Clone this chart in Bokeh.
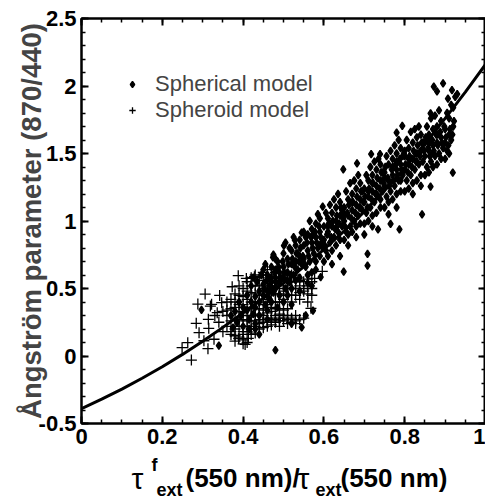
import numpy as np
from bokeh.plotting import figure
from bokeh.layouts import column
from bokeh.models import (Range1d, LinearAxis, FixedTicker, CustomJSTickFormatter,
                          Legend, LegendItem, ColumnDataSource)
from bokeh.core.properties import value
from bokeh.embed import file_html
from bokeh.resources import INLINE

# ---------------- data ----------------
sph_x = [
    0.38, 0.385, 0.39, 0.395, 0.40, 0.40, 0.37, 0.375,
    0.41, 0.41, 0.415, 0.42, 0.42, 0.425, 0.43, 0.43, 0.435, 0.44, 0.44, 0.44, 0.415, 0.425, 0.43, 0.445,
    0.45, 0.45, 0.455, 0.46, 0.46, 0.465, 0.47, 0.47, 0.475, 0.48, 0.48, 0.485, 0.49, 0.49, 0.45, 0.46,
    0.47, 0.48, 0.49, 0.485, 0.475, 0.455, 0.465, 0.48,
    0.50, 0.50, 0.505, 0.51, 0.51, 0.515, 0.52, 0.52, 0.525, 0.53, 0.53, 0.535, 0.54, 0.54, 0.545, 0.50,
    0.51, 0.52, 0.53, 0.54, 0.505, 0.515, 0.525, 0.535, 0.50, 0.52, 0.54,
    0.55, 0.55, 0.555, 0.56, 0.56, 0.565, 0.57, 0.57, 0.575, 0.58, 0.58, 0.585, 0.59, 0.59, 0.595, 0.55,
    0.56, 0.57, 0.58, 0.59, 0.555, 0.565, 0.575, 0.585, 0.57, 0.56, 0.58, 0.59,
    0.60, 0.60, 0.605, 0.61, 0.61, 0.615, 0.62, 0.62, 0.625, 0.63, 0.63, 0.635, 0.64, 0.64, 0.645, 0.60,
    0.61, 0.62, 0.63, 0.64, 0.605, 0.615, 0.625, 0.635, 0.645, 0.62, 0.64, 0.61, 0.63,
    0.65, 0.65, 0.655, 0.66, 0.66, 0.665, 0.67, 0.67, 0.675, 0.68, 0.68, 0.685, 0.69, 0.69, 0.695, 0.65,
    0.66, 0.67, 0.68, 0.69, 0.655, 0.665, 0.675, 0.685, 0.695, 0.66, 0.68, 0.67, 0.69, 0.65,
    0.70, 0.70, 0.705, 0.71, 0.71, 0.715, 0.72, 0.72, 0.725, 0.73, 0.73, 0.735, 0.74, 0.74, 0.745, 0.70,
    0.71, 0.72, 0.73, 0.74, 0.705, 0.715, 0.725, 0.735, 0.745, 0.70, 0.72, 0.71, 0.73, 0.74, 0.72,
    0.75, 0.75, 0.755, 0.76, 0.76, 0.765, 0.77, 0.77, 0.775, 0.78, 0.78, 0.785, 0.79, 0.79, 0.795, 0.75,
    0.76, 0.77, 0.78, 0.79, 0.755, 0.765, 0.775, 0.785, 0.795, 0.76, 0.78, 0.77, 0.79, 0.75, 0.78,
    0.80, 0.80, 0.805, 0.81, 0.81, 0.815, 0.82, 0.82, 0.825, 0.83, 0.83, 0.835, 0.84, 0.84, 0.845, 0.80,
    0.81, 0.82, 0.83, 0.84, 0.805, 0.815, 0.825, 0.835, 0.845, 0.82, 0.84, 0.81, 0.83, 0.80,
    0.85, 0.85, 0.855, 0.86, 0.86, 0.865, 0.87, 0.87, 0.875, 0.88, 0.88, 0.885, 0.89, 0.89, 0.895, 0.85,
    0.86, 0.87, 0.88, 0.89, 0.855, 0.865, 0.875, 0.885, 0.86, 0.88, 0.87,
    0.90, 0.90, 0.905, 0.91, 0.91, 0.915, 0.92, 0.92, 0.90, 0.91, 0.905, 0.915, 0.925, 0.93,
    0.919, 0.843, 0.864, 0.787, 0.765, 0.734, 0.708, 0.708, 0.649, 0.592, 0.648, 0.717, 0.739, 0.682,
    0.780, 0.794, 0.864, 0.872, 0.895, 0.917, 0.907, 0.880, 0.597, 0.545, 0.528, 0.501, 0.480, 0.545,
    0.573, 0.340, 0.297, 0.474, 0.555, 0.520, 0.43, 0.44, 0.46,
    0.602, 0.608, 0.612, 0.618, 0.622, 0.628, 0.632, 0.638, 0.642, 0.648, 0.652, 0.658, 0.662, 0.668,
    0.672, 0.678, 0.682, 0.688, 0.692, 0.698,
    0.702, 0.708, 0.712, 0.718, 0.722, 0.728, 0.732, 0.738, 0.742, 0.748, 0.752, 0.758, 0.762, 0.768,
    0.772, 0.778, 0.782, 0.788, 0.792, 0.798,
    0.802, 0.808, 0.812, 0.818, 0.822, 0.828, 0.832, 0.838, 0.842, 0.848, 0.852, 0.858, 0.862, 0.868,
    0.872, 0.878, 0.882, 0.888, 0.892, 0.898, 0.902, 0.908, 0.912, 0.918, 0.922,
    0.452, 0.458, 0.462, 0.468, 0.472, 0.478, 0.482, 0.488, 0.492, 0.498, 0.502, 0.508, 0.512, 0.518,
    0.522, 0.528, 0.532, 0.538, 0.542, 0.548, 0.552, 0.558, 0.562, 0.568, 0.572, 0.578, 0.582, 0.588,
    0.592, 0.598,
]
sph_y = [
    0.33, 0.25, 0.40, 0.30, 0.22, 0.36, 0.30, 0.21,
    0.34, 0.45, 0.27, 0.40, 0.52, 0.31, 0.44, 0.36, 0.55, 0.40, 0.48, 0.30, 0.20, 0.58, 0.24, 0.60,
    0.45, 0.53, 0.38, 0.48, 0.60, 0.42, 0.55, 0.66, 0.47, 0.58, 0.50, 0.70, 0.55, 0.62, 0.64, 0.34,
    0.40, 0.72, 0.45, 0.36, 0.75, 0.68, 0.52, 0.64,
    0.58, 0.66, 0.50, 0.62, 0.72, 0.55, 0.68, 0.78, 0.60, 0.70, 0.82, 0.64, 0.74, 0.86, 0.68, 0.76,
    0.45, 0.50, 0.56, 0.58, 0.84, 0.80, 0.88, 0.76, 0.40, 0.38, 0.48,
    0.72, 0.82, 0.66, 0.78, 0.90, 0.70, 0.84, 0.94, 0.76, 0.88, 0.98, 0.80, 0.92, 1.02, 0.84, 0.92,
    0.60, 0.62, 0.70, 0.74, 0.88, 1.00, 0.90, 1.05, 0.52, 0.54, 0.64, 0.82,
    0.86, 0.96, 0.78, 0.92, 1.02, 0.84, 0.96, 1.06, 0.88, 1.00, 1.10, 0.92, 1.04, 1.14, 0.96, 0.70,
    0.74, 0.78, 0.82, 0.86, 1.06, 1.12, 1.16, 1.20, 1.08, 0.68, 0.74, 0.96, 0.95,
    1.00, 1.10, 0.92, 1.04, 1.16, 0.96, 1.08, 1.20, 1.00, 1.12, 1.24, 1.04, 1.16, 1.28, 1.08, 0.86,
    0.90, 0.92, 0.96, 0.98, 1.22, 1.28, 1.30, 1.34, 1.22, 0.82, 0.88, 1.14, 1.10, 1.05,
    1.14, 1.24, 1.06, 1.18, 1.30, 1.10, 1.22, 1.34, 1.14, 1.26, 1.38, 1.18, 1.30, 1.42, 1.22, 0.98,
    1.00, 1.04, 1.06, 1.10, 1.34, 1.40, 1.44, 1.46, 1.36, 0.90, 0.96, 1.22, 1.20, 1.16, 1.28,
    1.26, 1.36, 1.18, 1.30, 1.42, 1.22, 1.34, 1.46, 1.26, 1.38, 1.50, 1.30, 1.42, 1.54, 1.34, 1.10,
    1.14, 1.16, 1.20, 1.22, 1.48, 1.52, 1.56, 1.60, 1.48, 1.05, 1.10, 1.40, 1.30, 1.32, 1.44,
    1.38, 1.48, 1.30, 1.42, 1.54, 1.34, 1.46, 1.58, 1.38, 1.50, 1.62, 1.42, 1.52, 1.64, 1.44, 1.22,
    1.24, 1.28, 1.30, 1.34, 1.60, 1.66, 1.68, 1.70, 1.58, 1.20, 1.26, 1.46, 1.44, 1.52,
    1.48, 1.58, 1.40, 1.52, 1.64, 1.44, 1.56, 1.68, 1.48, 1.58, 1.70, 1.50, 1.62, 1.74, 1.54, 1.34,
    1.36, 1.40, 1.42, 1.46, 1.70, 1.76, 1.78, 1.82, 1.58, 1.64, 1.50,
    1.58, 1.68, 1.52, 1.64, 1.76, 1.60, 1.70, 1.84, 1.46, 1.50, 1.80, 1.86, 1.92, 1.94,
    1.358, 1.049, 1.254, 0.938, 0.978, 0.938, 0.756, 0.669, 0.625, 0.585, 1.383, 1.496, 1.496, 1.427,
    1.654, 1.704, 1.798, 1.995, 2.020, 1.970, 1.906, 1.960, 1.106, 0.914, 0.859, 0.817, 0.044, 0.212,
    0.336, 0.077, 0.341, 0.730, 0.300, 0.240, 0.20, 0.16, 0.27,
    0.82, 0.90, 0.98, 0.88, 1.00, 0.94, 1.04, 0.98, 1.10, 1.02, 0.96, 1.06, 1.12, 1.02,
    1.14, 1.06, 1.18, 1.10, 1.22, 1.14,
    1.18, 1.10, 1.24, 1.16, 1.28, 1.20, 1.32, 1.24, 1.36, 1.28, 1.40, 1.32, 1.26, 1.38,
    1.30, 1.42, 1.34, 1.46, 1.38, 1.50,
    1.42, 1.36, 1.48, 1.40, 1.52, 1.44, 1.56, 1.48, 1.58, 1.52, 1.62, 1.54, 1.48, 1.60,
    1.52, 1.64, 1.56, 1.66, 1.58, 1.70, 1.62, 1.56, 1.68, 1.64, 1.74,
    0.50, 0.56, 0.44, 0.58, 0.50, 0.62, 0.54, 0.66, 0.58, 0.70, 0.62, 0.56, 0.68, 0.60,
    0.72, 0.66, 0.76, 0.70, 0.80, 0.74, 0.68, 0.84, 0.74, 0.88, 0.80, 0.92, 0.84, 0.96,
    0.88, 0.80,
]

spd_x = [
    0.272, 0.249, 0.263, 0.313, 0.284, 0.291, 0.288, 0.306, 0.319, 0.342, 0.388, 0.568, 0.596, 0.577,
    0.405, 0.389, 0.303, 0.328, 0.314, 0.315, 0.336, 0.322, 0.347, 0.373, 0.408, 0.428, 0.413,
    0.36, 0.36, 0.37, 0.37, 0.38, 0.38, 0.38, 0.39, 0.39, 0.39, 0.40, 0.40, 0.40, 0.40, 0.41, 0.41,
    0.41, 0.41, 0.42, 0.42, 0.42, 0.42, 0.43, 0.43, 0.43, 0.43, 0.44, 0.44, 0.44, 0.44, 0.45, 0.45,
    0.45, 0.45, 0.46, 0.46, 0.46, 0.46, 0.47, 0.47, 0.47, 0.47, 0.48, 0.48, 0.48, 0.48, 0.49, 0.49,
    0.49, 0.49, 0.50, 0.50, 0.50, 0.50, 0.51, 0.51, 0.51, 0.52, 0.52, 0.52, 0.53, 0.53, 0.53, 0.54,
    0.54, 0.55, 0.55, 0.56, 0.56, 0.57, 0.57, 0.36, 0.37, 0.38, 0.35, 0.34, 0.35, 0.33, 0.44, 0.43,
    0.45, 0.42, 0.39, 0.40, 0.41, 0.46, 0.48, 0.50, 0.47, 0.51, 0.52, 0.49, 0.53, 0.54, 0.55, 0.52,
    0.50, 0.48, 0.46,
    0.36, 0.37, 0.38, 0.39, 0.39, 0.40, 0.40, 0.41, 0.41, 0.41, 0.42, 0.42, 0.42, 0.43, 0.43, 0.43,
    0.44, 0.44, 0.44, 0.45, 0.45, 0.45, 0.45, 0.46, 0.46, 0.46, 0.47, 0.47, 0.47, 0.48, 0.48, 0.48,
    0.49, 0.49, 0.49, 0.50, 0.50, 0.51, 0.51, 0.51, 0.52, 0.52, 0.53, 0.53, 0.54, 0.54, 0.55, 0.56,
    0.56, 0.57,
    0.37, 0.38, 0.39, 0.40, 0.41, 0.42, 0.43, 0.44, 0.45, 0.46, 0.47, 0.49, 0.50, 0.51, 0.52, 0.53,
    0.38, 0.40,
]
spd_y = [
    -0.030, 0.062, 0.099, 0.054, 0.242, 0.173, 0.385, 0.459, 0.370, 0.449, 0.595, 0.353, 0.627, 0.575,
    0.086, 0.128, 0.113, 0.124, 0.272, 0.205, 0.321, 0.383, 0.395, 0.513, 0.575, 0.587, 0.131,
    0.30, 0.22, 0.35, 0.18, 0.28, 0.40, 0.15, 0.33, 0.22, 0.45, 0.27, 0.38, 0.18, 0.50, 0.30, 0.42,
    0.22, 0.55, 0.35, 0.26, 0.47, 0.16, 0.30, 0.40, 0.52, 0.22, 0.27, 0.35, 0.45, 0.58, 0.25, 0.38,
    0.50, 0.30, 0.28, 0.42, 0.55, 0.22, 0.33, 0.48, 0.26, 0.60, 0.30, 0.40, 0.52, 0.25, 0.35, 0.46,
    0.28, 0.56, 0.30, 0.42, 0.52, 0.26, 0.27, 0.45, 0.55, 0.25, 0.40, 0.50, 0.30, 0.45, 0.55, 0.42,
    0.52, 0.48, 0.55, 0.40, 0.52, 0.45, 0.50, 0.40, 0.26, 0.36, 0.33, 0.25, 0.18, 0.30, 0.20, 0.60,
    0.62, 0.58, 0.52, 0.12, 0.10, 0.48, 0.46, 0.48, 0.40, 0.35, 0.28, 0.22, 0.26, 0.27, 0.28, 0.60,
    0.60, 0.62, 0.64,
    0.34, 0.42, 0.46, 0.26, 0.38, 0.32, 0.44, 0.26, 0.36, 0.48, 0.30, 0.40, 0.52, 0.26, 0.35, 0.46,
    0.31, 0.40, 0.52, 0.27, 0.34, 0.45, 0.56, 0.32, 0.38, 0.60, 0.28, 0.36, 0.52, 0.27, 0.35, 0.56,
    0.31, 0.40, 0.50, 0.34, 0.56, 0.30, 0.50, 0.60, 0.45, 0.55, 0.50, 0.60, 0.47, 0.56, 0.50, 0.46,
    0.57, 0.55,
    0.16, 0.20, 0.14, 0.16, 0.18, 0.20, 0.17, 0.24, 0.21, 0.25, 0.23, 0.26, 0.28, 0.24, 0.27, 0.24,
    0.11, 0.09,
]

curve_x = [0.00, 0.05, 0.10, 0.15, 0.20, 0.25, 0.30, 0.35, 0.40, 0.45, 0.50,
           0.55, 0.60, 0.65, 0.70, 0.75, 0.80, 0.85, 0.90, 0.95, 1.00]
curve_y = [-0.39, -0.32, -0.245, -0.165, -0.08, 0.012, 0.11, 0.212, 0.32, 0.428, 0.54,
           0.66, 0.79, 0.925, 1.07, 1.225, 1.39, 1.57, 1.76, 1.955, 2.16]

x_ticks = [0, 0.2, 0.4, 0.6, 0.8, 1.0]
y_ticks = [-0.5, 0, 0.5, 1.0, 1.5, 2.0, 2.5]

# x-axis title pieces (with super/subscripts)
xlabel_text = ["τ", "f", "ext", "(550 nm)/", "τ", "ext", "(550 nm)"]

# ---------------- main figure ----------------
FONT = "Liberation Sans"
p = figure(width=485, height=455, output_backend="svg", toolbar_location=None, title=None,
           x_range=Range1d(0, 1), y_range=Range1d(-0.5, 2.5),
           x_axis_location=None, y_axis_location=None,
           min_border_left=81, min_border_right=0, min_border_top=18, min_border_bottom=32)
p.grid.visible = False
p.outline_line_color = "black"
p.outline_line_width = 2
p.background_fill_color = "white"
p.border_fill_color = "white"

fmt = CustomJSTickFormatter(code="return String(Math.round(tick*100)/100);")
blank = CustomJSTickFormatter(code="return '';")
x_minor = [round(0.05 * i, 2) for i in range(21)]
y_minor = [round(-0.5 + 0.1 * i, 2) for i in range(31)]


def style_axis(ax, show_labels):
    ax.axis_line_width = 2
    ax.axis_line_color = "black"
    ax.major_tick_in = 7
    ax.major_tick_out = 0
    ax.minor_tick_in = 4
    ax.minor_tick_out = 0
    ax.major_tick_line_width = 2
    ax.minor_tick_line_width = 1.5
    ax.major_tick_line_color = "black"
    ax.minor_tick_line_color = "black"
    if show_labels:
        ax.major_label_text_font = FONT
        ax.major_label_text_font_style = "bold"
        ax.major_label_text_font_size = "22px"
        ax.major_label_text_color = "black"
    else:
        ax.major_label_text_font_size = "1px"
        ax.major_label_standoff = 0


xb = LinearAxis(ticker=FixedTicker(ticks=x_ticks, minor_ticks=x_minor), formatter=fmt)
style_axis(xb, True)
xb.major_label_standoff = 5
xt = LinearAxis(ticker=FixedTicker(ticks=x_ticks, minor_ticks=x_minor), formatter=blank)
style_axis(xt, False)
yl = LinearAxis(ticker=FixedTicker(ticks=y_ticks, minor_ticks=y_minor), formatter=fmt)
style_axis(yl, True)
yl.major_label_standoff = 5
yl.axis_label = "Ångström parameter (870/440)"
yl.axis_label_text_font = FONT
yl.axis_label_text_font_style = "bold"
yl.axis_label_text_font_size = "27.5px"
yl.axis_label_standoff = -11
yr = LinearAxis(ticker=FixedTicker(ticks=y_ticks, minor_ticks=y_minor), formatter=blank)
style_axis(yr, False)
p.add_layout(xb, "below")
p.add_layout(xt, "above")
p.add_layout(yl, "left")
p.add_layout(yr, "right")

r_sph = p.scatter(sph_x, sph_y, marker="diamond", size=7.5,
                  fill_color="black", line_color="black", line_width=1.4)
r_spd = p.scatter(spd_x, spd_y, marker="cross", size=11,
                  line_color="black", line_width=1.3)
p.line(curve_x, curve_y, line_width=3, line_color="black")

legend = Legend(items=[LegendItem(label="Spherical model", renderers=[r_sph]),
                       LegendItem(label="Spheroid model", renderers=[r_spd])],
                location=(43, 300), orientation="vertical",
                border_line_color=None, background_fill_alpha=0,
                label_text_font=FONT, label_text_font_size="22px",
                glyph_width=16, glyph_height=16, label_standoff=15,
                padding=0, margin=0, spacing=-2, label_height=22)
p.add_layout(legend)

# ---------------- x-axis title strip (page-pixel coordinates) ----------------
q = figure(width=485, height=45, output_backend="svg", toolbar_location=None, title=None,
           x_range=Range1d(81, 485), y_range=Range1d(0, 45),
           x_axis_location=None, y_axis_location=None,
           min_border_left=81, min_border_right=0, min_border_top=0, min_border_bottom=0)
q.grid.visible = False
q.outline_line_color = None
q.background_fill_color = "white"
q.border_fill_color = "white"

lab = ColumnDataSource(dict(
    x=[131, 151, 156, 185, 297, 315, 340],
    y=[22, 36, 11, 23, 22, 11, 23],
    text=xlabel_text,
    size=["30px", "18px", "18px", "26px", "30px", "18px", "26px"],
    style=["normal", "bold", "bold", "bold", "normal", "bold", "bold"],
))
q.text(x="x", y="y", text="text", source=lab, text_font=value(FONT),
       text_font_size="size", text_font_style="style", text_color="black",
       text_align="left", text_baseline="alphabetic")

layout = column(p, q, spacing=0)
open("out.html", "w").write(file_html(layout, INLINE))
